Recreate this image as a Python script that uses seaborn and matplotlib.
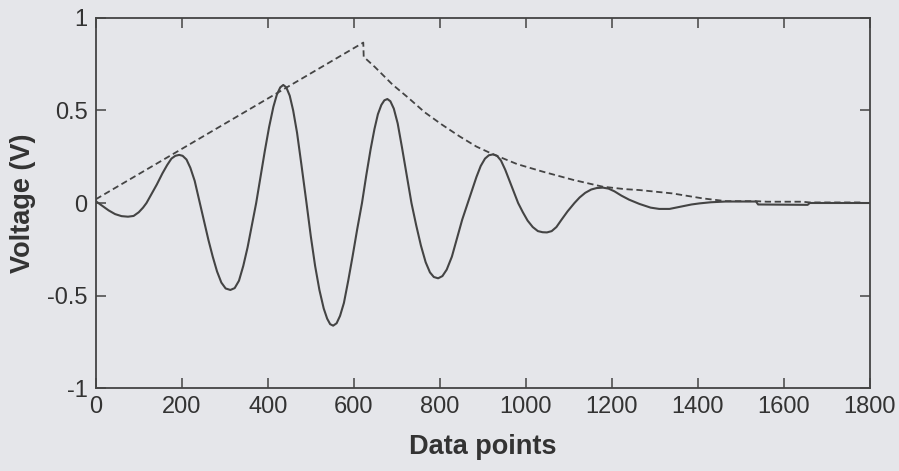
import seaborn as sns
import matplotlib.pyplot as plt
import pandas as pd

# measured signal (solid)
signal_x = [0, 15, 30, 45, 60, 75, 88, 100, 110, 118,
            130, 142, 155, 166, 176, 185, 194, 202, 211, 220, 230, 242,
            252, 262, 272, 282, 292, 302, 313, 323, 333, 343, 353, 363, 373,
            383, 393, 403, 413, 421, 429, 436, 443, 451, 459, 468, 478, 490,
            500, 510, 520, 530, 538, 545, 552, 560, 568, 577, 587, 597, 608, 619,
            629, 639, 648, 656, 664, 671, 678, 685, 693, 702, 712, 723, 734,
            745, 756, 767, 777, 786, 796, 806, 816, 828, 840, 852, 865,
            875, 885, 895, 905, 914, 924, 933, 942, 952, 962, 972, 982,
            993, 1004, 1016, 1028, 1039, 1049, 1060, 1071, 1083, 1097, 1113,
            1125, 1138, 1152, 1165, 1179, 1192, 1206, 1222, 1240, 1264,
            1290, 1310, 1334, 1360, 1385, 1404, 1430, 1465, 1535, 1540, 1655, 1660, 1800]
signal_v = [0.01, -0.015, -0.04, -0.06, -0.071, -0.074, -0.07, -0.05, -0.025, 0.0,
            0.05, 0.10, 0.16, 0.205, 0.24, 0.255, 0.26, 0.255, 0.235, 0.19, 0.12, 0.0,
            -0.10, -0.20, -0.29, -0.37, -0.43, -0.462, -0.47, -0.46, -0.42, -0.34, -0.24, -0.12, 0.0,
            0.14, 0.28, 0.41, 0.52, 0.585, 0.625, 0.638, 0.625, 0.58, 0.50, 0.38, 0.21, 0.0,
            -0.18, -0.34, -0.47, -0.57, -0.625, -0.655, -0.663, -0.65, -0.61, -0.54, -0.42, -0.29, -0.14, 0.0,
            0.15, 0.29, 0.40, 0.48, 0.53, 0.555, 0.562, 0.55, 0.51, 0.43, 0.30, 0.15, 0.0,
            -0.12, -0.23, -0.32, -0.375, -0.40, -0.407, -0.395, -0.36, -0.29, -0.19, -0.09, 0.0,
            0.07, 0.14, 0.20, 0.24, 0.258, 0.263, 0.255, 0.23, 0.18, 0.12, 0.06, 0.0,
            -0.05, -0.095, -0.13, -0.152, -0.158, -0.159, -0.152, -0.13, -0.09, -0.045, 0.0,
            0.03, 0.055, 0.073, 0.081, 0.083, 0.078, 0.063, 0.04, 0.018, -0.005,
            -0.025, -0.032, -0.032, -0.02, -0.008, -0.002, 0.004, 0.008, 0.008, -0.008, -0.01, 0.0, 0.0]

# envelope (dashed)
env_x = [0, 622, 623, 649, 690, 726, 765, 804, 846, 885, 924, 980, 1040, 1110, 1179,
         1230, 1264, 1340, 1411, 1465, 1535, 1560, 1643, 1660, 1780]
env_v = [0.02, 0.867, 0.79, 0.735, 0.64, 0.57, 0.49, 0.425, 0.36, 0.305, 0.263, 0.21,
         0.169, 0.125, 0.088, 0.075, 0.07, 0.052, 0.025, 0.01, 0.01, 0.007, 0.007, 0.003, 0.003]

bg = '#e5e6ea'
ink = '#444444'

sns.set_style('ticks')
plt.rcParams['font.family'] = ['Liberation Sans', 'DejaVu Sans']
plt.rcParams['xtick.direction'] = 'in'
plt.rcParams['ytick.direction'] = 'in'

df = pd.DataFrame({'x': signal_x, 'v': signal_v})
df2 = pd.DataFrame({'x': env_x, 'v': env_v})

fig = plt.figure(figsize=(8.99, 4.71), dpi=100, facecolor=bg)
ax = fig.add_axes([0.1065, 0.1762, 0.8612, 0.7856])
ax.set_facecolor(bg)

sns.lineplot(x='x', y='v', data=df, ax=ax, color=ink, linewidth=1.5, sort=False)
sns.lineplot(x='x', y='v', data=df2, ax=ax, color=ink, linewidth=1.3, sort=False,
             linestyle=(0, (3.5, 2)))

ax.set_xlim(0, 1800)
ax.set_ylim(-1, 1)
ax.set_xticks(range(0, 1801, 200))
ax.set_yticks([-1, -0.5, 0, 0.5, 1])
ax.set_yticklabels(['-1', '-0.5', '0', '0.5', '1'])
ax.tick_params(axis='both', which='both', top=True, right=True, length=7, width=1.1,
               color=ink, labelsize=17, labelcolor='#333333', pad=6)
for s in ax.spines.values():
    s.set_color(ink)
    s.set_linewidth(1.3)

ax.set_xlabel('Data points', fontsize=19.5, fontweight='bold', color='#333333', labelpad=11)
ax.set_ylabel('Voltage (V)', fontsize=19.5, fontweight='bold', color='#333333', labelpad=8)

plt.savefig('out.png', dpi=100, facecolor=bg)
